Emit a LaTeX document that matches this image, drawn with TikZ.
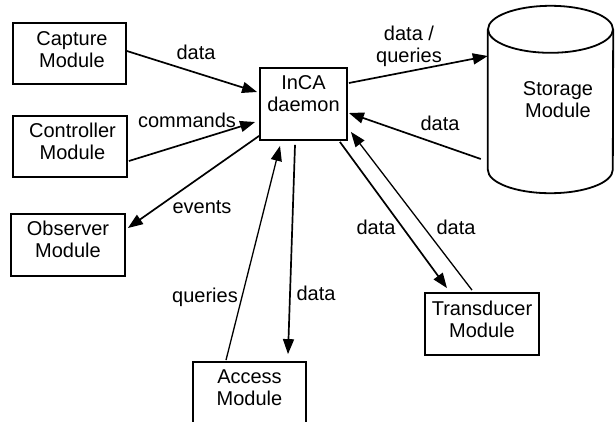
\documentclass[tikz,border=0pt]{standalone}
\usepackage{fontspec}
\setmainfont{Liberation Sans}
\usetikzlibrary{arrows.meta,calc}
\begin{document}
\begin{tikzpicture}[x=1pt,y=-1pt,
  font=\fontsize{20}{22}\selectfont,
  box/.style={draw, line width=1.8pt, inner sep=0pt},
  txt/.style={align=center, inner sep=0pt},
  lbl/.style={inner sep=0pt},
  flow/.style={line width=1.7pt, -{Triangle[length=15pt,width=11pt]}},
  thinflow/.style={line width=1.3pt, -{Triangle[length=15pt,width=11pt]}}]

\useasboundingbox (0,0) rectangle (615,421);
\fill[white] (0,0) rectangle (615,421);

% module boxes
\node[box, minimum width=113pt, minimum height=61pt] (cap) at (69.5,53.5) {};
\node[box, minimum width=114pt, minimum height=61pt] (ctl) at (70,146.5) {};
\node[box, minimum width=114pt, minimum height=62pt] (obs) at (68,245) {};
\node[box, minimum width=87pt,  minimum height=72pt] (inca) at (303.5,104) {};
\node[box, minimum width=114pt, minimum height=62pt] (trd) at (482,324) {};
\node[box, minimum width=113pt, minimum height=62pt] (acc) at (249.5,393) {};

% box captions
\node[txt] at ([shift={(2.5,-3.5)}]cap.center) {Capture\\Module};
\node[txt] at ([shift={(2.5,-5)}]ctl.center) {Controller\\Module};
\node[txt] at ([shift={(0,-6)}]obs.center) {Observer\\Module};
\node[txt] at ([shift={(0,-10)}]inca.center) {InCA\\daemon};
\node[txt] at ([shift={(0,-5)}]trd.center) {Transducer\\Module};
\node[txt] at ([shift={(0,-5)}]acc.center) {Access\\Module};

% storage cylinder
\node[inner sep=0pt, minimum width=125pt, minimum height=187pt] (sto) at (550.5,99.5) {};
\draw[line width=1.8pt] ($(sto.north)+(0,23.5)$) ellipse [x radius=62.5, y radius=23.5];
\draw[line width=1.8pt] ($(sto.north west)+(0,23.5)$) -- ($(sto.south west)+(0,-23.5)$)
  arc[start angle=180, end angle=0, x radius=62.5, y radius=23.5]
  -- ($(sto.north east)+(0,23.5)$);
\node[txt] at ([shift={(7.5,0)}]sto.center) {Storage\\Module};

% connectors
\draw[flow] ([shift={(0,-2.5)}]cap.east) -- ([shift={(-2,-12)}]inca.west);
\draw[flow] ([shift={(1,14.5)}]ctl.east) -- ([shift={(-4,18)}]inca.west);
\draw[flow] ([shift={(0,-5)}]inca.south west) -- ([shift={(2,-17)}]obs.east);
\draw[flow] ([shift={(1,-21)}]inca.east) -- ([shift={(0,-43.5)}]sto.west);
\draw[flow] ([shift={(-7,59.5)}]sto.west) -- ([shift={(1,9)}]inca.east);
\draw[flow] ([shift={(-8,1)}]inca.south east) -- ([shift={(-35,-4)}]trd.north);
\draw[thinflow] ([shift={(-10,-2)}]trd.north) -- ([shift={(3,-9)}]inca.south east);
\draw[flow] ([shift={(-8.5,4)}]inca.south) -- ([shift={(38.5,-7)}]acc.north);
\draw[thinflow] ([shift={(-23.5,-1)}]acc.north) -- ([shift={(-23.5,5)}]inca.south);

% connector labels
\node[lbl] (l1) at (196,52) {data};
\node[lbl] (l2) at (187,120) {commands};
\node[lbl] (l3) at (202,207) {events};
\node[lbl, align=center] (l4) at (409,46) {data /\\queries};
\node[lbl] (l5) at (440,123) {data};
\node[lbl] (l6) at (376,227) {data};
\node[lbl] (l7) at (456,227) {data};
\node[lbl] (l8) at (205,297) {queries};
\node[lbl] (l9) at (316,293) {data};
\end{tikzpicture}
\end{document}
